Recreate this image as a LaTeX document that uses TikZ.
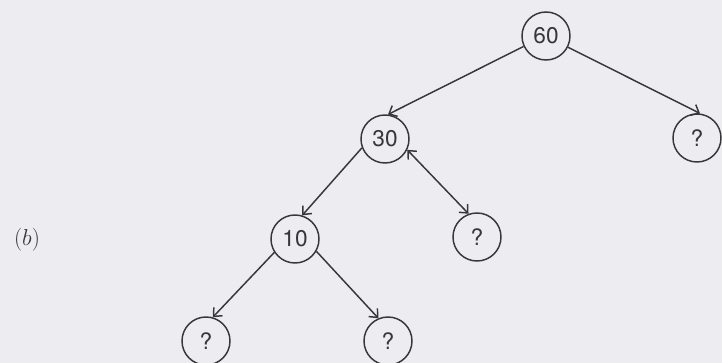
\documentclass[tikz,border=0pt]{standalone}
\usepackage{fontspec}
\newfontfamily\heros{TeX Gyre Heros}
\usetikzlibrary{arrows.meta}
\definecolor{paper}{RGB}{237,237,241}
\definecolor{ink}{RGB}{55,55,58}
\tikzset{
  tnode/.style={circle, draw=ink, line width=1.1pt, minimum size=36pt, inner sep=0pt,
    text=ink, font=\heros\fontsize{17}{20}\selectfont},
  tip/.style={Straight Barb[length=5pt,width=9pt,line width=1.1pt]},
  tedge/.style={draw=ink, line width=1.1pt, -{Straight Barb[length=5pt,width=9pt,line width=1.1pt]}},
  bedge/.style={draw=ink, line width=1.1pt, {Straight Barb[length=5pt,width=9pt,line width=1.1pt]}-{Straight Barb[length=5pt,width=9pt,line width=1.1pt]}}
}
\begin{document}
\begin{tikzpicture}[x=0.75pt,y=-0.75pt]
\fill[paper] (0,0) rectangle (722,363);
\useasboundingbox (0,0) rectangle (722,363);
\node[tnode] (n60) at (546,36) {60};
\node[tnode] (n30) at (385,139) {30};
\node[tnode] (r) at (697,138) {?};
\node[tnode] (n10) at (295,239) {10};
\node[tnode] (q30) at (477,237) {?};
\node[tnode] (l10) at (206,341) {?};
\node[tnode] (r10) at (388,341) {?};
\node[text=ink, font=\fontsize{17}{20}\selectfont] (lb) at (27,240) {$(b)$};
\draw[tedge] (n60.205) -- (n30.83);
\draw[tedge] (n60.333) -- (r.83);
\draw[tedge] (n30.201) -- (n10.73);
\draw[bedge] (n30.334) -- (q30.110);
\draw[tedge] (n10.213) -- (l10.74);
\draw[tedge] (n10.330) -- (r10.113);
\end{tikzpicture}
\end{document}
